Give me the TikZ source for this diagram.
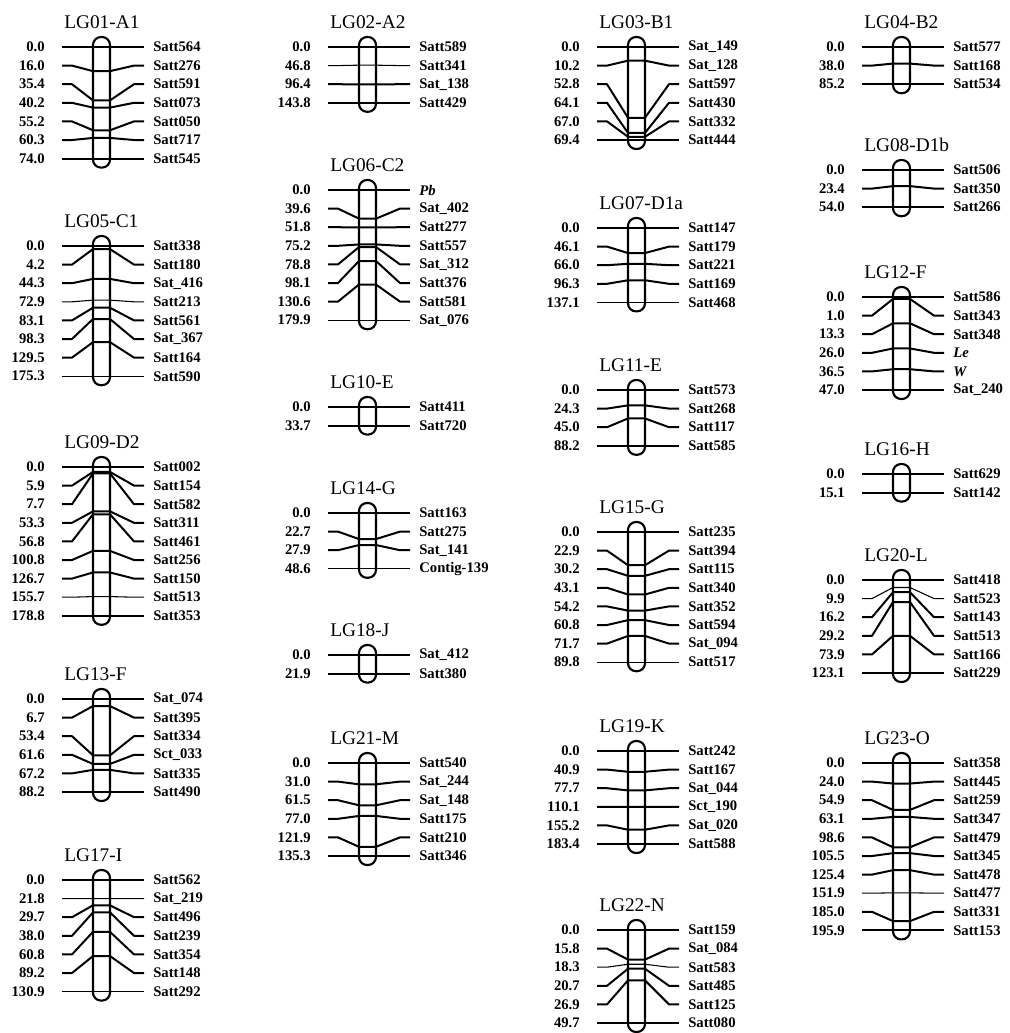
\documentclass[tikz,border=0pt]{standalone}
\usepackage{fontspec}
\setmainfont{Liberation Serif}
\usepackage{tikz}
\usetikzlibrary{calc}
\tikzset{
  lgtitle/.style={anchor=west, inner sep=0pt, font=\fontsize{14.5}{14.5}\selectfont},
  cmlab/.style={anchor=east, inner xsep=13pt, inner ysep=0pt, outer sep=0pt,
    font=\fontsize{11}{11}\selectfont\bfseries},
  mklab/.style={anchor=west, inner xsep=7pt, inner ysep=0pt, outer sep=0pt,
    font=\fontsize{11}{11}\selectfont\bfseries},
  chrom/.style={line width=1.6pt, rounded corners=6pt},
  mk/.style={line width=1.5pt, line join=round},
  mkthin/.style={line width=0.8pt},
}
% #1 name, #2 title, #3 x of line start, #4 y of first row,
% #5 length (cM), #6 number of markers, #7 cM/marker/style list
\newcommand{\lgmap}[7]{%
  \pgfmathsetmacro{\rowlen}{(#6-1)*18.6}
  \node[lgtitle] (#1-t) at (#3+2,#4-25) {#2};
  \draw[chrom] (#3+31,#4-10) rectangle (#3+48,#4+\rowlen+9);
  \foreach \cmv/\mkn/\lw [count=\i] in {#7} {
    \pgfmathsetmacro{\yl}{#4+(\i-1)*18.6}
    \pgfmathsetmacro{\yb}{#4+\cmv/#5*\rowlen}
    \node[cmlab] (#1-p\i) at (#3,\yl) {\cmv};
    \node[mklab] (#1-m\i) at (#3+82,\yl) {\mkn};
    \draw[\lw] (#1-p\i.east) -- ++(10,0) -- (#3+31,\yb) -- (#3+48,\yb)
      -- (#3+72,\yl) -- (#1-m\i.west);
  }
}

\begin{document}
\begin{tikzpicture}[x=0.75pt, y=-0.75pt]
  \useasboundingbox (0,0) rectangle (1010,1033);

  % column 1
  \lgmap{a1}{LG01-A1}{62}{47}{74.0}{7}{0.0/Satt564/mk, 16.0/Satt276/mk,
    35.4/Satt591/mk, 40.2/Satt073/mk, 55.2/Satt050/mk, 60.3/Satt717/mk,
    74.0/Satt545/mk}
  \lgmap{c1}{LG05-C1}{62}{246}{175.3}{8}{0.0/Satt338/mkthin, 4.2/Satt180/mk,
    44.3/Sat\_416/mk, 72.9/Satt213/mkthin, 83.1/Satt561/mk, 98.3/Sat\_367/mk,
    129.5/Satt164/mk, 175.3/Satt590/mkthin}
  \lgmap{d2}{LG09-D2}{62}{467}{178.8}{9}{0.0/Satt002/mk, 5.9/Satt154/mk,
    7.7/Satt582/mk, 53.3/Satt311/mk, 56.8/Satt461/mk, 100.8/Satt256/mk,
    126.7/Satt150/mk, 155.7/Satt513/mkthin, 178.8/Satt353/mk}
  \lgmap{f13}{LG13-F}{62}{699}{88.2}{6}{0.0/Sat\_074/mkthin, 6.7/Satt395/mk,
    53.4/Satt334/mk, 61.6/Sct\_033/mk, 67.2/Satt335/mk, 88.2/Satt490/mk}
  \lgmap{i}{LG17-I}{62}{880}{130.9}{7}{0.0/Satt562/mk, 21.8/Sat\_219/mkthin,
    29.7/Satt496/mk, 38.0/Satt239/mk, 60.8/Satt354/mk, 89.2/Satt148/mk,
    130.9/Satt292/mkthin}

  % column 2
  \lgmap{a2}{LG02-A2}{328}{47}{143.8}{4}{0.0/Satt589/mk, 46.8/Satt341/mkthin,
    96.4/Sat\_138/mk, 143.8/Satt429/mk}
  \lgmap{c2}{LG06-C2}{328}{190}{179.9}{8}{0.0/{\textit{Pb}}/mkthin,
    39.6/Sat\_402/mk, 51.8/Satt277/mk, 75.2/Satt557/mk, 78.8/Sat\_312/mk,
    98.1/Satt376/mk, 130.6/Satt581/mk, 179.9/Sat\_076/mkthin}
  \lgmap{e10}{LG10-E}{328}{407}{33.7}{2}{0.0/Satt411/mk, 33.7/Satt720/mk}
  \lgmap{g14}{LG14-G}{328}{513}{48.6}{4}{0.0/Satt163/mkthin, 22.7/Satt275/mk,
    27.9/Sat\_141/mk, 48.6/Contig-139/mkthin}
  \lgmap{j}{LG18-J}{328}{655}{21.9}{2}{0.0/Sat\_412/mk, 21.9/Satt380/mk}
  \lgmap{m}{LG21-M}{328}{763}{135.3}{6}{0.0/Satt540/mkthin, 31.0/Sat\_244/mk,
    61.5/Sat\_148/mk, 77.0/Satt175/mk, 121.9/Satt210/mk, 135.3/Satt346/mk}

  % column 3
  \lgmap{b1}{LG03-B1}{597}{47}{69.4}{6}{0.0/Sat\_149/mk, 10.2/Sat\_128/mk,
    52.8/Satt597/mk, 64.1/Satt430/mk, 67.0/Satt332/mk, 69.4/Satt444/mk}
  \lgmap{d1a}{LG07-D1a}{597}{228}{137.1}{5}{0.0/Satt147/mk, 46.1/Satt179/mk,
    66.0/Satt221/mk, 96.3/Satt169/mk, 137.1/Satt468/mkthin}
  \lgmap{e11}{LG11-E}{597}{390}{88.2}{4}{0.0/Satt573/mk, 24.3/Satt268/mk,
    45.0/Satt117/mk, 88.2/Satt585/mk}
  \lgmap{g15}{LG15-G}{597}{532}{89.8}{8}{0.0/Satt235/mkthin, 22.9/Satt394/mk,
    30.2/Satt115/mk, 43.1/Satt340/mk, 54.2/Satt352/mk, 60.8/Satt594/mk,
    71.7/Sat\_094/mk, 89.8/Satt517/mkthin}
  \lgmap{k}{LG19-K}{597}{751}{183.4}{6}{0.0/Satt242/mk, 40.9/Satt167/mk,
    77.7/Sat\_044/mk, 110.1/Sct\_190/mk, 155.2/Sat\_020/mk, 183.4/Satt588/mkthin}
  \lgmap{n}{LG22-N}{597}{930}{49.7}{6}{0.0/Satt159/mk, 15.8/Sat\_084/mk,
    18.3/Satt583/mkthin, 20.7/Satt485/mk, 26.9/Satt125/mk, 49.7/Satt080/mk}

  % column 4
  \lgmap{b2}{LG04-B2}{862}{47}{85.2}{3}{0.0/Satt577/mk, 38.0/Satt168/mk,
    85.2/Satt534/mk}
  \lgmap{d1b}{LG08-D1b}{862}{170}{54.0}{3}{0.0/Satt506/mk, 23.4/Satt350/mk,
    54.0/Satt266/mk}
  \lgmap{f12}{LG12-F}{862}{297}{47.0}{6}{0.0/Satt586/mk, 1.0/Satt343/mk,
    13.3/Satt348/mk, 26.0/{\textit{Le}}/mk, 36.5/{\textit{W}}/mk,
    47.0/Sat\_240/mk}
  \lgmap{h}{LG16-H}{862}{474}{15.1}{2}{0.0/Satt629/mk, 15.1/Satt142/mk}
  \lgmap{l}{LG20-L}{862}{580}{123.1}{6}{0.0/Satt418/mkthin, 9.9/Satt523/mkthin,
    16.2/Satt143/mk, 29.2/Satt513/mk, 73.9/Satt166/mk, 123.1/Satt229/mk}
  \lgmap{o}{LG23-O}{862}{763}{195.9}{10}{0.0/Satt358/mkthin, 24.0/Satt445/mk,
    54.9/Satt259/mk, 63.1/Satt347/mk, 98.6/Satt479/mk, 105.5/Satt345/mk,
    125.4/Satt478/mk, 151.9/Satt477/mkthin, 185.0/Satt331/mk, 195.9/Satt153/mk}
\end{tikzpicture}
\end{document}
